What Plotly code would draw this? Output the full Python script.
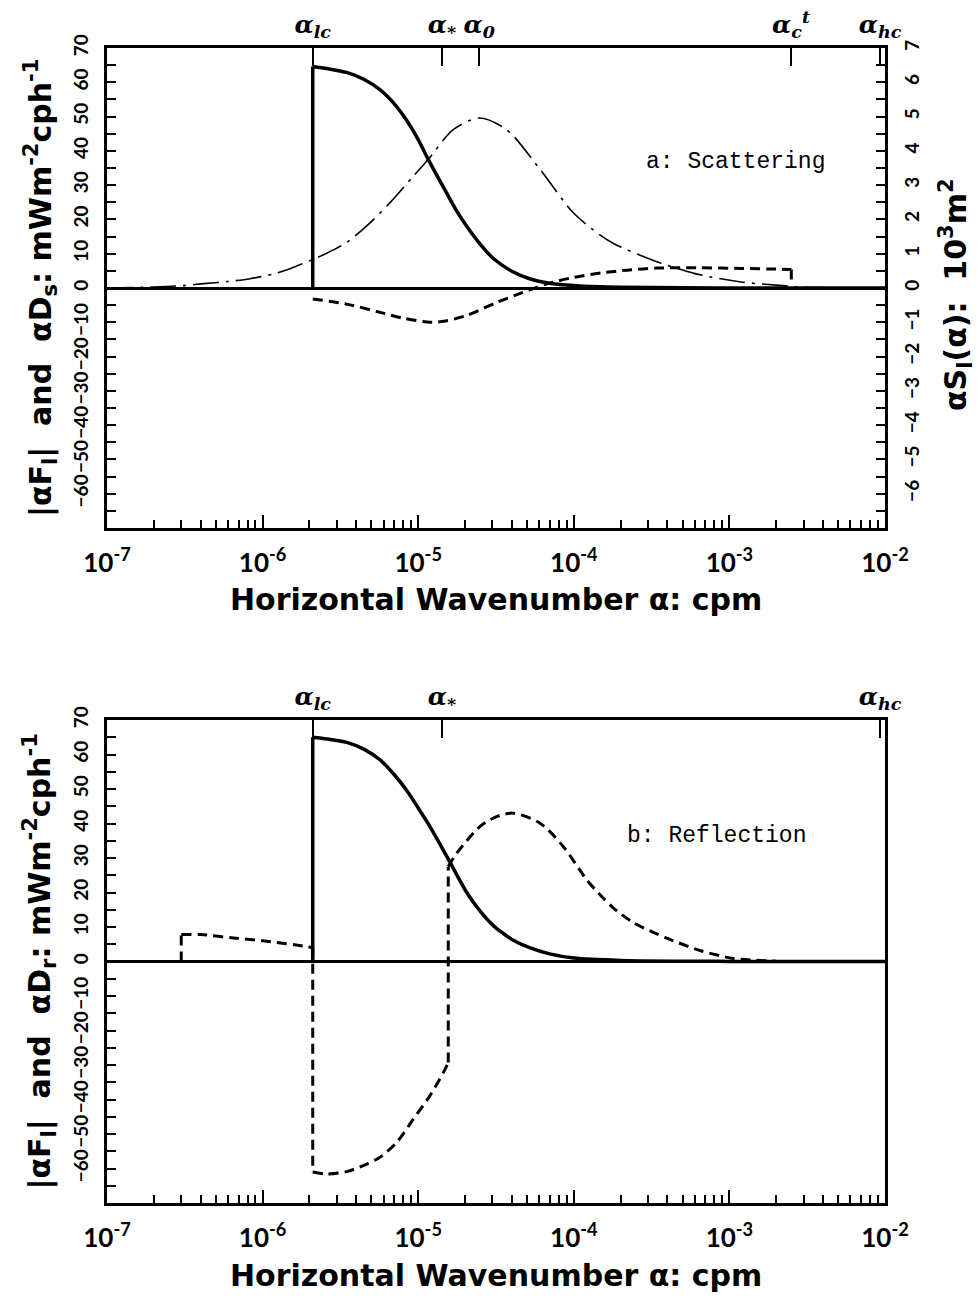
import numpy as np
import plotly.graph_objects as go

# ---------------- data ----------------
# Panel a: |alpha F_l| (solid, left axis, mW m^-2 cph^-1)
fa_alpha = [2.1e-6, 2.1e-6, 2.6e-6, 3.5e-6, 4.5e-6, 5.7e-6, 7.0e-6, 8.4e-6, 1.0e-5, 1.16e-5,
            1.35e-5, 1.52e-5, 1.75e-5, 2.05e-5, 2.5e-5, 3.04e-5, 4.0e-5, 5.2e-5, 7.0e-5,
            1.1e-4, 2.0e-4, 5.0e-4, 1.0e-3, 1.0e-2]
fa_value = [0.0, 64.6, 64.0, 62.8, 60.8, 57.8, 53.8, 49.0, 43.3, 37.5,
            32.0, 27.8, 22.8, 18.0, 12.8, 8.6, 4.9, 2.7, 1.4,
            0.6, 0.25, 0.08, 0.03, 0.0]

# Panel a: alpha D_s (dashed, left axis)
ds_alpha = [2.1e-6, 3.47e-6, 5.7e-6, 8.0e-6, 1.2e-5, 1.5e-5, 2.05e-5, 3.2e-5, 4.7e-5, 6.7e-5,
            1.0e-4, 1.5e-4, 2.2e-4, 3.4e-4, 6.5e-4, 1.2e-3, 2.1e-3, 2.5e-3, 2.5e-3]
ds_value = [-3.2, -4.7, -7.1, -8.8, -10.0, -9.6, -8.0, -4.2, -1.3, 1.2,
            3.1, 4.4, 5.2, 5.8, 5.9, 5.7, 5.5, 5.4, 2.0]

# Panel a: alpha S_l(alpha) (dash-dot, right axis, 10^3 m^2)
sl_alpha = [1.0e-7, 2.0e-7, 3.1e-7, 4.0e-7, 6.0e-7, 8.3e-7, 1.2e-6, 1.5e-6, 2.0e-6, 2.6e-6,
            3.47e-6, 4.67e-6, 6.6e-6, 9.3e-6, 1.16e-5, 1.68e-5, 2.47e-5, 3.7e-5, 6.07e-5,
            9.9e-5, 1.47e-4, 1.8e-4, 3.1e-4, 6.0e-4, 1.22e-3, 2.2e-3, 3.0e-3, 1.0e-2]
sl_value = [0.0, 0.03, 0.07, 0.12, 0.19, 0.27, 0.42, 0.56, 0.79, 1.02,
            1.33, 1.81, 2.49, 3.26, 3.75, 4.62, 4.96, 4.62, 3.46,
            2.2, 1.55, 1.3, 0.84, 0.42, 0.17, 0.07, 0.02, 0.0]

# Panel b: |alpha F_l| (solid)
fb_alpha = [2.1e-6, 2.1e-6, 2.6e-6, 3.47e-6, 4.5e-6, 5.7e-6, 7.0e-6, 8.4e-6, 1.0e-5, 1.19e-5,
            1.38e-5, 1.6e-5, 2.05e-5, 2.5e-5, 3.04e-5, 3.5e-5, 4.0e-5, 5.2e-5, 7.0e-5, 1.0e-4,
            2.0e-4, 5.0e-4, 1.0e-3, 1.0e-2]
fb_value = [0.0, 65.0, 64.5, 63.5, 61.5, 58.4, 54.2, 49.7, 44.5, 39.1,
            34.0, 28.8, 20.0, 14.6, 10.4, 8.2, 6.4, 4.0, 2.2, 1.0,
            0.3, 0.08, 0.03, 0.0]

# Panel b: alpha D_r (dashed)
dr_alpha = [3.0e-7, 3.0e-7, 4.0e-7, 6.5e-7, 1.06e-6, 1.87e-6, 2.1e-6, 2.1e-6, 2.57e-6, 3.47e-6,
            4.67e-6, 5.7e-6, 7.28e-6, 9.3e-6, 1.19e-5, 1.45e-5, 1.56e-5, 1.56e-5, 1.77e-5,
            2.49e-5, 3.19e-5, 4.08e-5, 6.07e-5, 8.57e-5, 1.21e-4, 1.5e-4, 1.8e-4, 2.41e-4,
            3.95e-4, 6.47e-4, 1.06e-3, 2.0e-3]
dr_value = [0.0, 7.8, 7.8, 6.8, 5.9, 4.4, 4.0, -61.0, -61.6, -60.9,
            -58.7, -56.7, -52.4, -45.7, -38.9, -32.2, -29.3, 27.5, 31.4,
            39.1, 42.0, 43.0, 40.1, 33.3, 23.7, 19.0, 15.5, 11.3,
            6.8, 3.2, 0.9, 0.1]

# Characteristic wavenumbers marked on the top axes
marks_a_alpha = [2.1e-6, 1.42e-5, 2.47e-5, 2.49e-3, 9.3e-3]
marks_a_label = ["α<sub>lc</sub>", "α<sub>*</sub>", "α<sub>0</sub>",
                 "α<sub>c</sub><sup>t</sup>", "α<sub>hc</sub>"]
marks_b_alpha = [2.1e-6, 1.42e-5, 9.3e-3]
marks_b_label = ["α<sub>lc</sub>", "α<sub>*</sub>", "α<sub>hc</sub>"]

# Axis ticks
x_decades = [1e-7, 1e-6, 1e-5, 1e-4, 1e-3, 1e-2]
x_decade_text = ["10<sup>-7</sup>", "10<sup>-6</sup>", "10<sup>-5</sup>", "10<sup>-4</sup>",
                 "10<sup>-3</sup>", "10<sup>-2</sup>"]
y_left_ticks = [-60, -50, -40, -30, -20, -10, 0, 10, 20, 30, 40, 50, 60, 70]
y_right_ticks = [-6, -5, -4, -3, -2, -1, 0, 1, 2, 3, 4, 5, 6, 7]

# ---------------- figure ----------------
W, H = 980, 1299
L, R = 107, 885
A_TOP, A_BOT = 48, 528
B_TOP, B_BOT = 720, 1203

def px(x):
    return x / W

def py(y):
    return 1 - y / H

x_minor = [m * d for d in x_decades[:-1] for m in range(2, 10)]

TICKFONT = dict(family="Lato, DejaVu Sans, sans-serif", size=19, color="black", weight="bold")
XTICKFONT = dict(family="Lato, DejaVu Sans, sans-serif", size=26, color="black", weight="bold")
ALPHAFONT = dict(family="DejaVu Serif, serif", size=25, color="black", weight="bold", style="italic")
TITLEFONT = dict(family="DejaVu Sans, sans-serif", size=30, color="black", weight="bold")
PANELFONT = dict(family="Liberation Mono, Courier New, monospace", size=23, color="black")

fig = go.Figure()

solid = dict(color="black", width=3.5)
dashed = dict(color="black", width=3, dash="10px,6px")
dashdot = dict(color="black", width=1.6, dash="26px,7px,3px,7px")


def add_series(xs, ys, line, xa, ya):
    """Draw a series: smooth (spline) runs, straight vertical jumps where x repeats."""
    n = len(xs)
    start = 0
    for i in range(1, n):
        if xs[i] == xs[i - 1]:
            if i - 1 - start >= 1:
                fig.add_trace(go.Scatter(x=xs[start:i], y=ys[start:i], mode="lines",
                                         line=dict(line, shape="spline", smoothing=0.8),
                                         xaxis=xa, yaxis=ya, hoverinfo="skip"))
            fig.add_trace(go.Scatter(x=xs[i - 1:i + 1], y=ys[i - 1:i + 1], mode="lines",
                                     line=dict(line, shape="linear"),
                                     xaxis=xa, yaxis=ya, hoverinfo="skip"))
            start = i
    if n - 1 - start >= 1:
        fig.add_trace(go.Scatter(x=xs[start:], y=ys[start:], mode="lines",
                                 line=dict(line, shape="spline", smoothing=0.8),
                                 xaxis=xa, yaxis=ya, hoverinfo="skip"))


add_series(fa_alpha, fa_value, solid, "x", "y")
add_series(ds_alpha, ds_value, dashed, "x", "y")
add_series(sl_alpha, sl_value, dashdot, "x", "y2")
add_series(fb_alpha, fb_value, solid, "x2", "y3")
add_series(dr_alpha, dr_value, dashed, "x2", "y3")

# invisible carriers so that the top (marker) axes are drawn
fig.add_trace(go.Scatter(x=marks_a_alpha, y=[0] * len(marks_a_alpha), mode="markers",
                         marker=dict(opacity=0), xaxis="x3", yaxis="y", hoverinfo="skip"))
fig.add_trace(go.Scatter(x=marks_b_alpha, y=[0] * len(marks_b_alpha), mode="markers",
                         marker=dict(opacity=0), xaxis="x4", yaxis="y3", hoverinfo="skip"))

xdom = [px(L), px(R)]
common_x = dict(type="log", range=[-7, -2], domain=xdom, showgrid=False, zeroline=False,
                automargin=False,
                showline=True, linecolor="black", linewidth=3,
                tickmode="array", tickvals=x_decades, ticktext=x_decade_text,
                ticks="inside", ticklen=13, tickwidth=2, tickcolor="black",
                ticklabelstandoff=10, tickfont=XTICKFONT,
                minor=dict(tickmode="array", tickvals=x_minor, ticks="inside",
                           ticklen=8, tickwidth=1.6, tickcolor="black", showgrid=False))

y_minor_left = list(np.arange(-65, 70, 10))
y_minor_right = list(np.arange(-6.5, 7, 1.0))

common_yl = dict(range=[-70, 70], showgrid=False, zeroline=True, zerolinecolor="black",
                 automargin=False,
                 zerolinewidth=2.5, showline=True, linecolor="black", linewidth=3,
                 tickmode="array", tickvals=y_left_ticks, ticks="inside", ticklen=9,
                 tickwidth=1.8, tickcolor="black", tickangle=-90, tickfont=TICKFONT,
                 ticklabelstandoff=8,
                 minor=dict(tickmode="array", tickvals=y_minor_left, ticks="inside",
                            ticklen=9, tickwidth=1.8, tickcolor="black", showgrid=False))

top_common = dict(type="log", range=[-7, -2], showgrid=False, zeroline=False,
                  automargin=False,
                  showline=True, linecolor="black", linewidth=3, side="top",
                  tickmode="array", ticks="inside", ticklen=18, tickwidth=2,
                  tickcolor="black", tickfont=ALPHAFONT, ticklabelstandoff=2)

fig.update_layout(
    width=W, height=H, margin=dict(l=0, r=0, t=0, b=0, autoexpand=False),
    paper_bgcolor="white", plot_bgcolor="white", showlegend=False,
    xaxis=dict(anchor="y", **common_x),
    yaxis=dict(anchor="x", domain=[py(A_BOT), py(A_TOP)], mirror=False, **common_yl),
    yaxis2=dict(anchor="x", overlaying="y", side="right", range=[-7, 7], showgrid=False,
                automargin=False,
                zeroline=False, showline=True, linecolor="black", linewidth=3,
                tickmode="array", tickvals=y_right_ticks, ticks="inside", ticklen=9,
                tickwidth=1.8, tickcolor="black", tickangle=-90, tickfont=TICKFONT,
                ticklabelstandoff=8,
                minor=dict(tickmode="array", tickvals=y_minor_right, ticks="inside",
                           ticklen=9, tickwidth=1.8, tickcolor="black", showgrid=False)),
    xaxis3=dict(anchor="y", overlaying="x", tickvals=marks_a_alpha, ticktext=marks_a_label,
                **top_common),
    xaxis2=dict(anchor="y3", **common_x),
    yaxis3=dict(anchor="x2", domain=[py(B_BOT), py(B_TOP)], mirror=True, **common_yl),
    xaxis4=dict(anchor="y3", overlaying="x2", tickvals=marks_b_alpha, ticktext=marks_b_label,
                **top_common),
)

# axis titles and panel labels
xtitle = "Horizontal Wavenumber α: cpm"
ann = [
    dict(text=xtitle, x=px((L + R) / 2), y=py(600), xref="paper", yref="paper",
         showarrow=False, font=TITLEFONT, xanchor="center", yanchor="middle"),
    dict(text=xtitle, x=px((L + R) / 2), y=py(1275), xref="paper", yref="paper",
         showarrow=False, font=TITLEFONT, xanchor="center", yanchor="middle"),
    dict(text="|αF<sub>l</sub>|  and  αD<sub>s</sub>: mWm<sup>-2</sup>cph<sup>-1</sup>",
         x=px(40), y=py((A_TOP + A_BOT) / 2), xref="paper", yref="paper", textangle=-90,
         showarrow=False, font=TITLEFONT, xanchor="center", yanchor="middle"),
    dict(text="|αF<sub>l</sub>|  and  αD<sub>r</sub>: mWm<sup>-2</sup>cph<sup>-1</sup>",
         x=px(40), y=py((B_TOP + B_BOT) / 2), xref="paper", yref="paper", textangle=-90,
         showarrow=False, font=TITLEFONT, xanchor="center", yanchor="middle"),
    dict(text="αS<sub>l</sub>(α):  10<sup>3</sup>m<sup>2</sup>",
         x=px(955), y=py(295), xref="paper", yref="paper", textangle=-90,
         showarrow=False, font=TITLEFONT, xanchor="center", yanchor="middle"),
    dict(text="a: Scattering", x=px(735), y=py(162), xref="paper", yref="paper",
         showarrow=False, font=PANELFONT, xanchor="center", yanchor="middle"),
    dict(text="b: Reflection", x=px(716), y=py(836), xref="paper", yref="paper",
         showarrow=False, font=PANELFONT, xanchor="center", yanchor="middle"),
]
fig.update_layout(annotations=ann)

fig.write_html("out.html")
